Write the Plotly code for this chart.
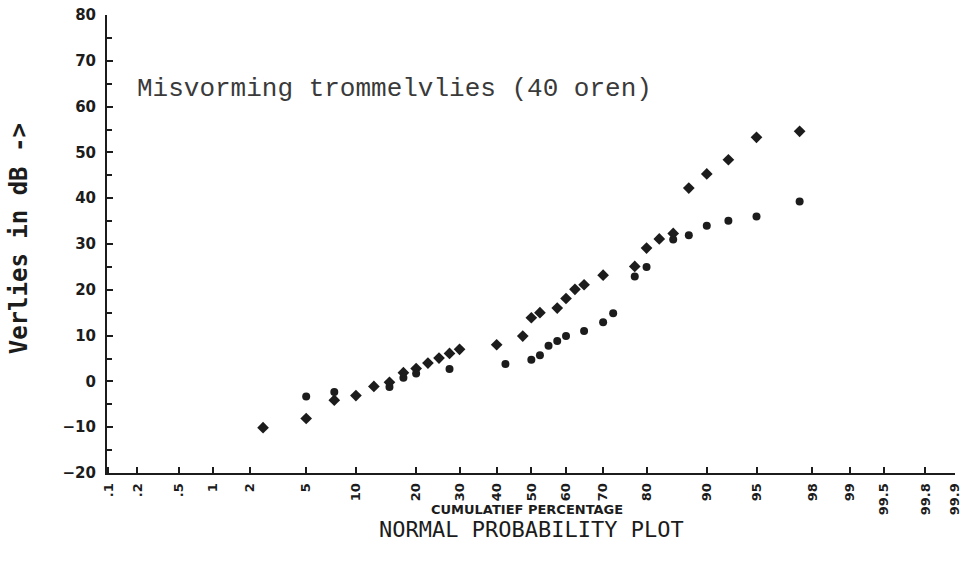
from statistics import NormalDist
import plotly.graph_objects as go

# ---------------- data ----------------
diamond_pct = [2.5, 5, 7.5, 10, 12.5, 15, 17.5, 20, 22.5, 25, 27.5, 30, 40, 47.5,
               50, 52.5, 57.5, 60, 62.5, 65, 70, 77.5, 80, 82.5, 85, 87.5, 90,
               92.5, 95, 97.5]
diamond_db = [-10.1, -8.1, -4.1, -3.1, -1.1, -0.2, 1.9, 2.8, 4.0, 5.1, 6.1, 7.0, 8.0, 9.9,
              13.9, 15.0, 16.0, 18.1, 20.1, 21.1, 23.2, 25.1, 29.1, 31.1, 32.3, 42.2, 45.3,
              48.4, 53.3, 54.6]

circle_pct = [5, 7.5, 15, 17.5, 20, 27.5, 42.5, 50, 52.5, 55, 57.5, 60, 65, 70, 72.5,
              77.5, 80, 85, 87.5, 90, 92.5, 95, 97.5]
circle_db = [-3.3, -2.3, -1.2, 0.8, 1.7, 2.7, 3.8, 4.7, 5.7, 7.8, 8.8, 9.9, 11.0, 12.9, 14.9,
             22.9, 25.0, 31.0, 31.9, 34.0, 35.1, 36.0, 39.3]

tick_pct = [0.1, 0.2, 0.5, 1, 2, 5, 10, 20, 30, 40, 50, 60, 70, 80, 90, 95, 98, 99,
            99.5, 99.8, 99.9]
tick_text = [".1", ".2", ".5", "1", "2", "5", "10", "20", "30", "40", "50", "60", "70",
             "80", "90", "95", "98", "99", "99.5", "99.8", "99.9"]

y_ticks = [-20, -10, 0, 10, 20, 30, 40, 50, 60, 70, 80]

title_text = "Misvorming trommelvlies (40 oren)"
x_title = "CUMULATIEF PERCENTAGE"
plot_title = "NORMAL PROBABILITY PLOT"
y_title = "Verlies in dB ->"

# ---------------- probability scale ----------------
nd = NormalDist()


def z(p):
    return nd.inv_cdf(p / 100.0)


ink = "#1c1c1c"

fig = go.Figure()
fig.add_trace(go.Scatter(
    x=[z(p) for p in diamond_pct], y=diamond_db, mode="markers",
    marker=dict(symbol="diamond", size=9, color=ink, line=dict(width=0)),
    showlegend=False, hoverinfo="skip"))
fig.add_trace(go.Scatter(
    x=[z(p) for p in circle_pct], y=circle_db, mode="markers",
    marker=dict(symbol="circle", size=8, color=ink, line=dict(width=0)),
    showlegend=False, hoverinfo="skip"))

xtickfont = dict(family="DejaVu Sans", size=13, color=ink, weight="bold")
ytickfont = dict(family="DejaVu Sans", size=15, color=ink, weight="bold")

fig.update_xaxes(
    range=[-3.1, 3.095],
    tickmode="array", tickvals=[z(p) for p in tick_pct], ticktext=tick_text,
    tickangle=-90, ticks="inside", ticklen=6, tickwidth=2, tickcolor=ink,
    showline=True, linewidth=2, linecolor=ink, showgrid=False, zeroline=False,
    tickfont=xtickfont, ticklabelstandoff=3, ticklabeloverflow="allow",
    fixedrange=True)

fig.update_yaxes(
    range=[-20, 80],
    tickmode="array", tickvals=y_ticks,
    ticks="inside", ticklen=6, tickwidth=2, tickcolor=ink,
    minor=dict(dtick=5, tick0=0, ticks="inside", ticklen=5, tickwidth=1.5, tickcolor=ink),
    showline=True, linewidth=2, linecolor=ink, showgrid=False, zeroline=False,
    tickfont=ytickfont, ticklabelstandoff=6, ticklabeloverflow="allow",
    fixedrange=True)

fig.add_annotation(text=title_text, xref="paper", yref="paper", x=0.033, y=0.838,
                   xanchor="left", yanchor="middle", showarrow=False,
                   font=dict(family="Liberation Mono", size=26, color="#3a3a3a"))
fig.add_annotation(text=x_title, xref="paper", yref="paper", x=0.495, y=-0.079,
                   xanchor="center", yanchor="middle", showarrow=False,
                   font=dict(family="DejaVu Sans", size=13, color=ink, weight="bold"))
fig.add_annotation(text=plot_title, xref="paper", yref="paper", x=0.501, y=-0.124,
                   xanchor="center", yanchor="middle", showarrow=False,
                   font=dict(family="DejaVu Sans Mono", size=22, color=ink))
fig.add_annotation(text=y_title, xref="paper", yref="paper", x=-0.104, y=0.512,
                   xanchor="center", yanchor="middle", showarrow=False, textangle=-90,
                   font=dict(family="DejaVu Sans Mono", size=24, color=ink, weight="bold"))

fig.update_layout(
    width=968, height=573,
    margin=dict(l=107, r=6, t=14, b=100),
    paper_bgcolor="white", plot_bgcolor="white",
    showlegend=False)

fig.write_html("out.html")
